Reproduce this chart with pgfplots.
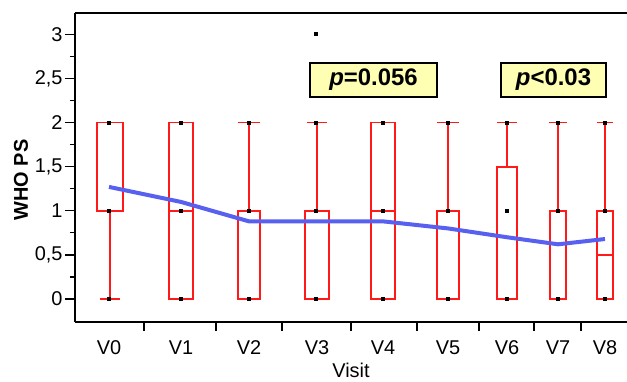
\documentclass[border=0pt]{standalone}
\usepackage{fontspec}
\setmainfont{Liberation Sans}
\usepackage{pgfplots}
\pgfplotsset{compat=1.18}
\usepgfplotslibrary{statistics}
\definecolor{boxred}{RGB}{255,25,25}
\definecolor{meanblue}{RGB}{88,96,240}
\definecolor{pyellow}{RGB}{255,255,180}
\begin{document}
\begin{tikzpicture}
\begin{axis}[
  scale only axis,
  width=552bp, height=309bp,
  xmin=75, xmax=627,
  ymin=-0.26, ymax=3.24,
  axis x line*=bottom, axis y line*=left,
  axis line style={-, line width=1.8bp, black},
  tick align=outside,
  tick style={black, line width=1.2bp},
  ytick={0,0.5,1,1.5,2,2.5,3},
  yticklabels={0,{0,5},1,{1,5},2,{2,5},3},
  minor y tick num=1,
  major tick length=10bp,
  minor tick length=5bp,
  xtick={109,181,249,317,383,448,507,558,605},
  xticklabels={V0,V1,V2,V3,V4,V5,V6,V7,V8},
  x tick style={draw=none},
  extra x ticks={144,216,282,351,417,479,534,581},
  extra x tick labels={},
  extra x tick style={x tick style={draw=black, line width=1.6bp}, major tick length=9bp},
  yticklabel style={font=\fontsize{20}{20}\selectfont, xshift=1bp},
  xticklabel style={font=\fontsize{20}{20}\selectfont, yshift=-5bp},
  xlabel={Visit},
  every axis x label/.style={at={(rel axis cs:0.5,-0.158)}, anchor=center, font=\fontsize{20}{20}\selectfont},
  ylabel={\textbf{WHO PS}},
  every axis y label/.style={at={(rel axis cs:-0.0978,0.46)}, anchor=center, rotate=90, font=\fontsize{20}{20}\selectfont},
  boxplot/draw direction=y,
  clip=false,
]
% boxplots
\addplot[boxred, line width=1.9bp, boxplot prepared={draw position=110, lower whisker=0, lower quartile=1, median=1, upper quartile=2, upper whisker=2, box extend=26, whisker extend=20}] coordinates {};
\addplot[boxred, line width=1.9bp, boxplot prepared={draw position=181, lower whisker=0, lower quartile=0, median=1, upper quartile=2, upper whisker=2, box extend=24, whisker extend=24}] coordinates {};
\addplot[boxred, line width=1.9bp, boxplot prepared={draw position=249, lower whisker=0, lower quartile=0, median=1, upper quartile=1, upper whisker=2, box extend=22, whisker extend=22}] coordinates {};
\addplot[boxred, line width=1.9bp, boxplot prepared={draw position=317, lower whisker=0, lower quartile=0, median=1, upper quartile=1, upper whisker=2, box extend=24, whisker extend=20}] coordinates {};
\addplot[boxred, line width=1.9bp, boxplot prepared={draw position=383, lower whisker=0, lower quartile=0, median=1, upper quartile=2, upper whisker=2, box extend=24, whisker extend=24}] coordinates {};
\addplot[boxred, line width=1.9bp, boxplot prepared={draw position=448, lower whisker=0, lower quartile=0, median=1, upper quartile=1, upper whisker=2, box extend=22, whisker extend=22}] coordinates {};
\addplot[boxred, line width=1.9bp, boxplot prepared={draw position=507, lower whisker=0, lower quartile=0, median=0, upper quartile=1.5, upper whisker=2, box extend=20, whisker extend=20}] coordinates {};
\addplot[boxred, line width=1.9bp, boxplot prepared={draw position=558, lower whisker=0, lower quartile=0, median=1, upper quartile=1, upper whisker=2, box extend=16, whisker extend=18}] coordinates {};
\addplot[boxred, line width=1.9bp, boxplot prepared={draw position=605, lower whisker=0, lower quartile=0, median=0.5, upper quartile=1, upper whisker=2, box extend=16, whisker extend=16}] coordinates {};
% mean line
\addplot[meanblue, line width=4bp, mark=none] coordinates {
  (109,1.27) (181,1.10) (249,0.88) (317,0.88) (383,0.88) (448,0.80) (507,0.70) (558,0.62) (605,0.68)};
% data points
\addplot[only marks, mark=square*, mark size=1.5bp, black] coordinates {
  (109,0) (109,1) (109,2)
  (181,0) (181,1) (181,2)
  (249,0) (249,1) (249,2)
  (316,0) (316,1) (316,2) (316,3)
  (383,0) (383,1) (383,2)
  (448,0) (448,1) (448,2)
  (507,0) (507,1) (507,2)
  (558,0) (558,1) (558,2)
  (605,0) (605,1) (605,2)};
% top frame line
\draw[line width=1.5bp, black] (rel axis cs:0,1) -- (rel axis cs:1,1);
% annotations
\node[draw=black, line width=1.5bp, fill=pyellow, minimum width=127bp, minimum height=34bp, inner sep=0pt,
  font=\fontsize{24}{24}\selectfont\bfseries] at (axis cs:373.5,2.48) {\textit{p}=0.056};
\node[draw=black, line width=1.5bp, fill=pyellow, minimum width=105bp, minimum height=34bp, inner sep=0pt,
  font=\fontsize{24}{24}\selectfont\bfseries] at (axis cs:553.5,2.48) {\textit{p}<0.03};
\end{axis}
\pgfresetboundingbox
\useasboundingbox ([xshift=-75bp,yshift=-60bp]current axis.south west) rectangle ([yshift=13bp]current axis.north east);
\end{tikzpicture}
\end{document}
